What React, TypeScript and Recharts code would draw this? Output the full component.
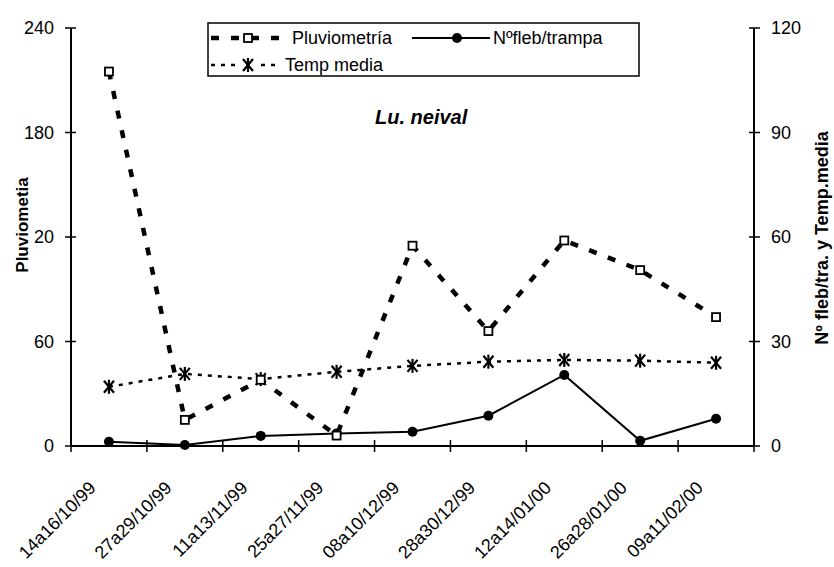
import React from "react";
import { LineChart, Line, XAxis, YAxis, Legend, Label } from "recharts";

const dates = [
  "14a16/10/99",
  "27a29/10/99",
  "11a13/11/99",
  "25a27/11/99",
  "08a10/12/99",
  "28a30/12/99",
  "12a14/01/00",
  "26a28/01/00",
  "09a11/02/00",
];
const pluviometria = [215, 15, 38, 6, 115, 66, 118, 101, 74];
const flebTrampa = [1.2, 0.3, 2.9, 3.6, 4.1, 8.7, 20.4, 1.5, 7.8];
const tempMedia = [17, 20.7, 19.2, 21.3, 23, 24.2, 24.7, 24.5, 23.9];

const leftTicks = [0, 60, 120, 180, 240];
const leftTickLabels = ["0", "60", "20", "180", "240"];
const rightTicks = [0, 30, 60, 90, 120];

const data = dates.map((d, i) => ({
  date: d,
  pluv: pluviometria[i],
  fleb: flebTrampa[i],
  temp: tempMedia[i],
}));

const W = 834;
const H = 567;
const LEFT = 71;
const RIGHT = 80;
const TOP = 28;
const BOTTOM = 121;
const BAND = (W - LEFT - RIGHT) / dates.length;
const FONT = "'Liberation Sans', Arial, sans-serif";

function DateTick(props: any) {
  const { x, y, payload, index } = props;
  const left = x - BAND / 2;
  const right = x + BAND / 2;
  return (
    <g>
      <line x1={left} x2={left} y1={y - 6} y2={y + 6} stroke="#000" strokeWidth={1.5} />
      {index === dates.length - 1 && (
        <line x1={right} x2={right} y1={y - 6} y2={y + 6} stroke="#000" strokeWidth={1.5} />
      )}
      <text
        transform={`translate(${x - 12},${y + 43}) rotate(-45)`}
        textAnchor="end"
        fontFamily={FONT}
        fontSize={18}
        fill="#000"
      >
        {payload.value}
      </text>
    </g>
  );
}

function LeftTick(props: any) {
  const { x, y, index } = props;
  return (
    <g>
      <line x1={x - 6} x2={x + 5} y1={y} y2={y} stroke="#000" strokeWidth={1.5} />
      <text x={x - 17} y={y} dy="0.35em" textAnchor="end" fontFamily={FONT} fontSize={18} fill="#000">
        {leftTickLabels[index]}
      </text>
    </g>
  );
}

function RightTick(props: any) {
  const { x, y, payload } = props;
  return (
    <g>
      <line x1={x - 5} x2={x + 6} y1={y} y2={y} stroke="#000" strokeWidth={1.5} />
      <text x={x + 17} y={y} dy="0.35em" textAnchor="start" fontFamily={FONT} fontSize={18} fill="#000">
        {payload.value}
      </text>
    </g>
  );
}

function SquareDot(props: any) {
  const { cx, cy, index } = props;
  if (cx == null || cy == null) return <g key={index} />;
  return (
    <rect key={index} x={cx - 4} y={cy - 4} width={8} height={8} fill="#fff" stroke="#000" strokeWidth={1.8} />
  );
}

function StarMark({ cx, cy }: { cx: number; cy: number }) {
  return (
    <g stroke="#000" strokeWidth={2.2} fill="none">
      <line x1={cx - 5} y1={cy - 6} x2={cx + 5} y2={cy + 6} />
      <line x1={cx + 5} y1={cy - 6} x2={cx - 5} y2={cy + 6} />
      <line x1={cx} y1={cy - 7} x2={cx} y2={cy + 7} />
    </g>
  );
}

function StarDot(props: any) {
  const { cx, cy, index } = props;
  if (cx == null || cy == null) return <g key={index} />;
  return (
    <g key={index}>
      <StarMark cx={cx} cy={cy} />
    </g>
  );
}

function CircleDot(props: any) {
  const { cx, cy, index } = props;
  if (cx == null || cy == null) return <g key={index} />;
  return <circle key={index} cx={cx} cy={cy} r={5} fill="#000" />;
}

function LegendBox() {
  return (
    <svg width={433} height={55} style={{ display: "block" }}>
      <rect x={1} y={1} width={431} height={53} fill="#fff" stroke="#000" strokeWidth={1.5} />
      <g fontFamily={FONT} fontSize={18} fill="#000">
        <line x1={4} x2={80} y1={16} y2={16} stroke="#000" strokeWidth={4.5} strokeDasharray="8 12" />
        <rect x={37} y={12} width={8} height={8} fill="#fff" stroke="#000" strokeWidth={1.8} />
        <text x={85} y={22}>Pluviometría</text>
        <line x1={205} x2={283} y1={16} y2={16} stroke="#000" strokeWidth={2} />
        <circle cx={250} cy={16} r={5} fill="#000" />
        <text x={286} y={22}>Nºfleb/trampa</text>
        <line x1={4} x2={72} y1={43} y2={43} stroke="#000" strokeWidth={2.5} strokeDasharray="4 6" />
        <rect x={34} y={35} width={14} height={16} fill="#fff" />
        <StarMark cx={41} cy={43} />
        <text x={78} y={49}>Temp media</text>
      </g>
    </svg>
  );
}

export default function App() {
  return (
    <div style={{ position: "absolute", left: 0, top: 0, width: W, height: H, background: "#fff" }}>
      <LineChart
        width={W}
        height={H}
        data={data}
        margin={{ top: TOP, right: 0, bottom: 0, left: 0 }}
      >
        <XAxis
          dataKey="date"
          scale="band"
          height={BOTTOM}
          interval={0}
          tickSize={0}
          tickMargin={0}
          tickLine={false}
          axisLine={{ stroke: "#000", strokeWidth: 2 }}
          tick={<DateTick />}
        />
        <YAxis
          yAxisId="left"
          width={LEFT}
          domain={[0, 240]}
          ticks={leftTicks}
          interval={0}
          tickSize={0}
          tickMargin={0}
          tickLine={false}
          axisLine={{ stroke: "#000", strokeWidth: 2 }}
          tick={<LeftTick />}
        >
          <Label
            content={() => (
              <text
                transform="translate(28,225) rotate(-90)"
                textAnchor="middle"
                fontFamily={FONT}
                fontWeight="bold"
                fontSize={17}
                fill="#000"
              >
                Pluviometia
              </text>
            )}
          />
        </YAxis>
        <YAxis
          yAxisId="right"
          orientation="right"
          width={RIGHT}
          domain={[0, 120]}
          ticks={rightTicks}
          interval={0}
          tickSize={0}
          tickMargin={0}
          tickLine={false}
          axisLine={{ stroke: "#000", strokeWidth: 2 }}
          tick={<RightTick />}
        >
          <Label
            content={() => (
              <text
                transform="translate(828,238) rotate(-90)"
                textAnchor="middle"
                fontFamily={FONT}
                fontWeight="bold"
                fontSize={18}
                fill="#000"
              >
                Nº fleb/tra. y Temp.media
              </text>
            )}
          />
        </YAxis>
        <Legend
          layout="horizontal"
          verticalAlign="middle"
          align="center"
          wrapperStyle={{ left: 207, top: 22, width: 433, height: 55 }}
          content={() => <LegendBox />}
        />
        <Line
          yAxisId="right"
          dataKey="temp"
          name="Temp media"
          stroke="#000"
          strokeWidth={2.5}
          strokeDasharray="4 6"
          dot={<StarDot />}
          isAnimationActive={false}
        />
        <Line
          yAxisId="right"
          dataKey="fleb"
          name="Nºfleb/trampa"
          stroke="#000"
          strokeWidth={2}
          dot={<CircleDot />}
          isAnimationActive={false}
        />
        <Line
          yAxisId="left"
          dataKey="pluv"
          name="Pluviometría"
          stroke="#000"
          strokeWidth={4.5}
          strokeDasharray="8 12"
          dot={<SquareDot />}
          isAnimationActive={false}
        />
      </LineChart>
      <div
        style={{
          position: "absolute",
          left: 375,
          top: 106,
          fontFamily: FONT,
          fontWeight: "bold",
          fontStyle: "italic",
          fontSize: 20,
          color: "#000",
        }}
      >
        Lu. neival
      </div>
    </div>
  );
}
